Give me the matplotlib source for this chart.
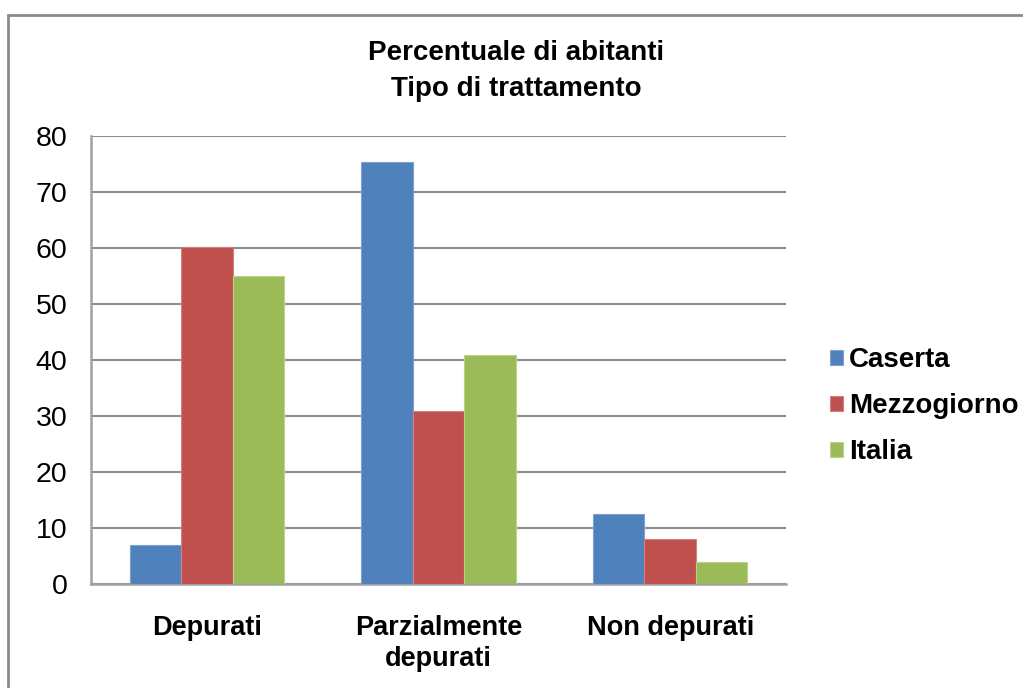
import matplotlib
matplotlib.use("Agg")
import matplotlib.pyplot as plt
import numpy as np
from matplotlib.patches import Rectangle

categories = ["Depurati", "Parzialmente\ndepurati", "Non depurati"]
series_names = ["Caserta", "Mezzogiorno", "Italia"]
caserta = [6.9, 75.3, 12.4]
mezzogiorno = [60.1, 30.9, 8.0]
italia = [55.0, 40.8, 3.9]
y_ticks = [0, 10, 20, 30, 40, 50, 60, 70, 80]
title_text = "Percentuale di abitanti\nTipo di trattamento"

colors = ["#4F81BD", "#C0504D", "#9BBB59"]
edges = ["#7DA0CF", "#D5807E", "#BBD38A"]

plt.rcParams['font.family'] = ['Liberation Sans', 'DejaVu Sans']

W, H = 1023, 688
fig = plt.figure(figsize=(W / 100, H / 100), dpi=100)
fig.patch.set_facecolor("white")

# outer chart border
fig.add_artist(Rectangle((8 / W, -0.05), 1.2, (H - 15) / H + 0.05,
                         transform=fig.transFigure, fill=False,
                         edgecolor="#8A8A8A", linewidth=2.0))

ax = fig.add_axes([91 / W, (H - 583.5) / H, (786 - 91) / W, (583.5 - 136) / H])

x = np.arange(len(categories))
width = 0.222
data = [caserta, mezzogiorno, italia]
for i, (vals, name) in enumerate(zip(data, series_names)):
    ax.bar(x + (i - 1) * width, vals, width, color=colors[i],
           edgecolor=edges[i], linewidth=0.8, label=name, zorder=3)

ax.set_xlim(-0.5, 2.5)
ax.set_ylim(0, 80)
ax.set_yticks(y_ticks)
ax.set_yticklabels([str(t) for t in y_ticks], fontsize=20.5)
ax.set_xticks(x)
ax.set_xticklabels(categories, fontsize=19.5, fontweight="bold", linespacing=1.25)
ax.tick_params(axis="y", length=0, pad=17)
ax.tick_params(axis="x", length=0, pad=23)

ax.grid(axis="y", color="#8C8C8C", linewidth=1.5, zorder=0)
ax.set_axisbelow(True)
for s in ["top", "right"]:
    ax.spines[s].set_visible(False)
for s in ["left", "bottom"]:
    ax.spines[s].set_color("#A0A0A0")
    ax.spines[s].set_linewidth(1.8)

fig.text(516 / W, 1 - 71 / H, title_text, ha="center", va="center",
         fontsize=20, fontweight="bold", linespacing=1.45)

leg = fig.legend(loc="center left", bbox_to_anchor=(819 / W, 1 - 406 / H),
                 frameon=False, prop={"size": 20, "weight": "bold"},
                 handlelength=0.45, handleheight=0.45, handletextpad=0.22,
                 labelspacing=0.72, borderaxespad=0)

fig.savefig("out.png", dpi=100, facecolor="white")
